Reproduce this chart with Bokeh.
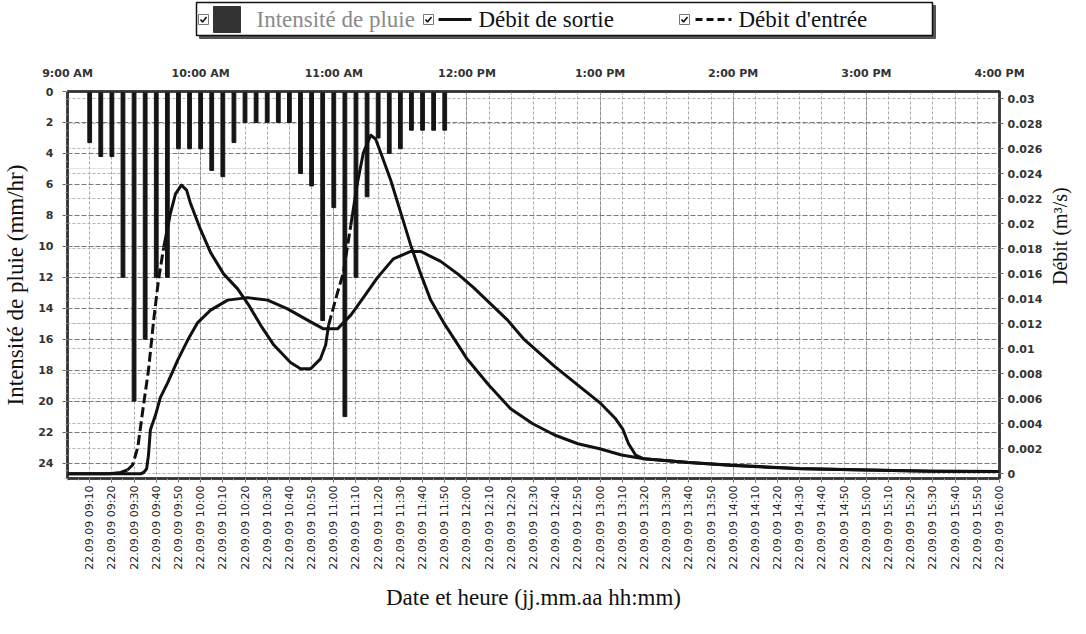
import math
from bokeh.plotting import figure
from bokeh.layouts import column
from bokeh.models import (Range1d, LinearAxis, FixedTicker, Grid,
                          CustomJSTickFormatter)
from bokeh.core.properties import value
from bokeh.embed import file_html
from bokeh.resources import INLINE

# ---------------------------------------------------------------- data
# Rainfall intensity (mm/hr), one reading every 5 minutes
rain_time = ["09:10", "09:15", "09:20", "09:25", "09:30", "09:35", "09:40",
             "09:45", "09:50", "09:55", "10:00", "10:05", "10:10", "10:15",
             "10:20", "10:25", "10:30", "10:35", "10:40", "10:45", "10:50",
             "10:55", "11:00", "11:05", "11:10", "11:15", "11:20", "11:25",
             "11:30", "11:35", "11:40", "11:45", "11:50"]
rain_mm = [3.3, 4.2, 4.2, 12.0, 20.0, 16.0, 12.0, 12.0, 3.7, 3.7, 3.7,
           5.1, 5.5, 3.3, 2.0, 2.0, 2.0, 2.0, 2.0, 5.3, 6.1, 14.8, 7.5,
           21.0, 12.0, 6.8, 3.0, 4.0, 3.7, 2.5, 2.5, 2.5, 2.5]

# Inflow (m3/s)
inflow_time = ["09:00:00", "09:19:00", "09:24:00", "09:27:00", "09:29:20",
               "09:31:40", "09:34:20", "09:36:30", "09:38:50", "09:41:00",
               "09:43:20", "09:46:20", "09:48:40", "09:51:20", "09:53:40",
               "09:55:20", "09:59:50", "10:04:30", "10:10:20", "10:16:40",
               "10:21:40", "10:27:00", "10:33:00", "10:40:30", "10:45:00",
               "10:49:30", "10:54:00", "10:56:20", "10:57:40", "11:01:40",
               "11:04:20", "11:07:40", "11:10:40", "11:13:20", "11:16:40",
               "11:18:50", "11:21:10", "11:25:40", "11:30:10", "11:34:40",
               "11:39:10", "11:43:40", "11:49:30", "11:57:10", "12:00:00",
               "12:09:50", "12:19:40", "12:29:40", "12:39:30", "12:50:00",
               "12:59:50", "13:09:40", "13:19:40", "13:40:00", "13:59:40",
               "14:30:00", "15:00:00", "15:30:00", "16:00:00"]
inflow = [0.0, 0.0, 0.0001, 0.0003, 0.0007,
          0.0021, 0.0056, 0.0083, 0.0123, 0.0155,
          0.0181, 0.0208, 0.0224, 0.0231, 0.0227,
          0.0217, 0.0196, 0.0177, 0.0160, 0.0148,
          0.0135, 0.0119, 0.0103, 0.0089, 0.0084,
          0.0084, 0.0092, 0.0103, 0.0119, 0.0145,
          0.0161, 0.0199, 0.0233, 0.0257, 0.0271,
          0.0268, 0.0257, 0.0235, 0.0209, 0.0183,
          0.0160, 0.0139, 0.0121, 0.0100, 0.0092,
          0.0071, 0.0052, 0.0040, 0.0031, 0.0024,
          0.0020, 0.0015, 0.0012, 0.0009, 0.00066,
          0.0004, 0.0003, 0.0002, 0.00018]
# rising limbs of the inflow are drawn dashed
inflow_dashed = [("09:27:00", "09:43:20"), ("10:57:40", "11:07:40")]

# Outflow (m3/s)
outflow_time = ["09:00:00", "09:33:00", "09:34:20", "09:35:40", "09:36:30",
                "09:37:20", "09:39:40", "09:41:50", "09:45:10", "09:49:40",
                "09:54:10", "09:58:40", "10:04:30", "10:12:10", "10:21:10",
                "10:30:10", "10:39:10", "10:48:10", "10:55:20", "11:01:40",
                "11:07:40", "11:13:20", "11:19:40", "11:26:50", "11:34:40",
                "11:39:10", "11:48:10", "11:55:50", "12:03:00", "12:10:40",
                "12:18:20", "12:25:30", "12:39:30", "12:50:00", "12:59:50",
                "13:07:00", "13:10:10", "13:12:50", "13:16:00", "13:19:40",
                "13:40:00", "14:00:00", "14:30:00", "15:00:00", "15:30:00",
                "16:00:00"]
outflow = [0.0, 0.0, 0.0001, 0.0004, 0.0015,
           0.0035, 0.0047, 0.0061, 0.0073, 0.0091,
           0.0107, 0.0121, 0.0131, 0.0139, 0.0141,
           0.0139, 0.0132, 0.0123, 0.0116, 0.0116,
           0.0127, 0.0141, 0.0157, 0.0172, 0.0178,
           0.0178, 0.0170, 0.0160, 0.0149, 0.0136,
           0.0123, 0.0108, 0.0086, 0.0071, 0.0057,
           0.0044, 0.0036, 0.0024, 0.0015, 0.0012,
           0.0009, 0.00068, 0.00042, 0.0003, 0.0002,
           0.00018]

hour_labels = ["9:00 AM", "10:00 AM", "11:00 AM", "12:00 PM", "1:00 PM",
               "2:00 PM", "3:00 PM", "4:00 PM"]
date_prefix = "22.09.09"

legend_rain = "Intensité de pluie"
legend_out = "Débit de sortie"
legend_in = "Débit d'entrée"


def minutes(hms):
    """Minutes elapsed since 09:00."""
    parts = [int(v) for v in hms.split(":")]
    sec = parts[2] if len(parts) > 2 else 0
    return (parts[0] - 9) * 60 + parts[1] + sec / 60.0


rain_x = [minutes(t) for t in rain_time]
in_x = [minutes(t) for t in inflow_time]
out_x = [minutes(t) for t in outflow_time]

# ---------------------------------------------------------------- styles
INK = "#111111"
TICK_FONT = "DejaVu Sans"
SERIF = "Liberation Serif"
BORDER_L, BORDER_R = 67, 87

# ---------------------------------------------------------------- main plot
p = figure(width=1086, height=594, output_backend="svg", toolbar_location=None,
           x_range=Range1d(0, 420), y_range=Range1d(25, 0),
           x_axis_location=None, y_axis_location=None,
           min_border_left=BORDER_L, min_border_right=BORDER_R,
           min_border_top=51, min_border_bottom=156)
p.extra_y_ranges = {"flow": Range1d(-0.00038, 0.0306)}
p.outline_line_color = "#222222"
p.outline_line_width = 2.5
p.background_fill_color = "white"

ten_min = list(range(10, 421, 10))
hours = list(range(0, 421, 60))
rain_ticks = list(range(0, 25, 2))
flow_ticks = [round(i * 0.002, 3) for i in range(16)]

grid_specs = [
    dict(dimension=0, ticker=FixedTicker(ticks=ten_min),
         grid_line_color="#a8a8a8", grid_line_dash="3 2"),
    dict(dimension=0, ticker=FixedTicker(ticks=hours),
         grid_line_color="#8c8c8c", grid_line_dash="4 1"),
    dict(dimension=1, ticker=FixedTicker(ticks=flow_ticks), y_range_name="flow",
         grid_line_color="#b4b4b4", grid_line_dash="3 2"),
    dict(dimension=1, ticker=FixedTicker(ticks=rain_ticks),
         grid_line_color="#7a7a7a", grid_line_dash="5 2"),
]
for spec in grid_specs:
    p.add_layout(Grid(grid_line_width=1, **spec))

# rainfall bars hang from the top edge
p.vbar(x=rain_x, width=1.7, top=0, bottom=rain_mm, color="#151515")

# outflow
p.line(out_x, outflow, y_range_name="flow", line_color=INK, line_width=3,
       line_join="round")

# inflow: solid pieces and dashed rising limbs
bounds = [(inflow_time.index(a), inflow_time.index(b)) for a, b in inflow_dashed]
solid_xs, solid_ys, dash_xs, dash_ys = [], [], [], []
start = 0
for i0, i1 in bounds:
    solid_xs.append(in_x[start:i0 + 1])
    solid_ys.append(inflow[start:i0 + 1])
    dash_xs.append(in_x[i0:i1 + 1])
    dash_ys.append(inflow[i0:i1 + 1])
    start = i1
solid_xs.append(in_x[start:])
solid_ys.append(inflow[start:])
p.multi_line(solid_xs, solid_ys, y_range_name="flow", line_color=INK,
             line_width=3, line_join="round")
p.multi_line(dash_xs, dash_ys, y_range_name="flow", line_color=INK,
             line_width=3, line_dash="10 4")


# ---------------------------------------------------------------- axes
def style_axis(ax, size="11px", bold=True):
    ax.major_label_text_font = TICK_FONT
    ax.major_label_text_font_size = size
    ax.major_label_text_font_style = "bold" if bold else "normal"
    ax.major_label_text_color = "#333333"
    ax.axis_line_color = "#333333"
    ax.axis_line_width = 2
    ax.major_tick_line_color = "#666666"
    ax.minor_tick_line_color = "#999999"
    ax.axis_label_text_font = SERIF
    ax.axis_label_text_font_style = "normal"
    ax.axis_label_text_font_size = "23px"
    ax.axis_label_text_color = "#111111"


left = LinearAxis(ticker=FixedTicker(ticks=rain_ticks,
                                     minor_ticks=[i * 0.5 for i in range(51)]),
                  axis_label="Intensité de pluie (mm/hr)")
style_axis(left)
left.major_tick_in = 0
left.major_tick_out = 5
left.minor_tick_in = 0
left.minor_tick_out = 2
left.major_label_standoff = 9
left.axis_label_standoff = 7
p.add_layout(left, "left")

right = LinearAxis(y_range_name="flow", ticker=FixedTicker(ticks=flow_ticks),
                   formatter=CustomJSTickFormatter(code="""
                       if (tick === 0) { return '0'; }
                       return tick.toFixed(3).replace(/0+$/, '').replace(/\\.$/, '');
                   """),
                   axis_label="Débit (m³/s)")
style_axis(right)
right.axis_label_text_font_size = "20px"
right.major_tick_in = 0
right.major_tick_out = 4
right.minor_tick_out = 0
right.major_label_standoff = 4
right.axis_label_standoff = 15
right.axis_label_orientation = math.pi / 2
p.add_layout(right, "right")

top = LinearAxis(ticker=FixedTicker(ticks=hours),
                 major_label_overrides={h: lab for h, lab in zip(hours, hour_labels)})
style_axis(top)
top.major_tick_in = 0
top.major_tick_out = 0
top.minor_tick_out = 0
top.major_label_standoff = 12
p.add_layout(top, "above")

bottom_labels = {m: f"{date_prefix} {9 + m // 60:02d}:{m % 60:02d}" for m in ten_min}
bottom = LinearAxis(ticker=FixedTicker(ticks=ten_min,
                                       minor_ticks=list(range(0, 421, 5))),
                    major_label_overrides=bottom_labels,
                    major_label_orientation=math.pi / 2,
                    axis_label="Date et heure (jj.mm.aa hh:mm)")
style_axis(bottom, size="11px", bold=False)
bottom.major_label_text_color = "#222222"
bottom.major_tick_in = 0
bottom.major_tick_out = 4
bottom.minor_tick_in = 0
bottom.minor_tick_out = 2
bottom.major_label_standoff = 3
bottom.axis_label_standoff = 12
p.add_layout(bottom, "below")

# ---------------------------------------------------------------- legend strip
# data units equal page pixels: the frame spans x = 67..999
lg = figure(width=1086, height=40, output_backend="svg", toolbar_location=None,
            x_range=Range1d(BORDER_L, 1086 - BORDER_R), y_range=Range1d(40, 0),
            x_axis_location=None, y_axis_location=None,
            min_border_left=BORDER_L, min_border_right=BORDER_R,
            min_border_top=0, min_border_bottom=0)
lg.outline_line_color = None
lg.grid.visible = False

lg.quad(left=[199], right=[935], top=[5], bottom=[38], color="#555555")
lg.quad(left=[196], right=[932], top=[2], bottom=[35], fill_color="white",
        line_color="#111111", line_width=1.5)

# check boxes
check_x = [203, 428, 684]
lg.quad(left=[c - 5 for c in check_x], right=[c + 5 for c in check_x],
        top=[14] * 3, bottom=[24] * 3, fill_color="white",
        line_color="#777777", line_width=1)
lg.multi_line(xs=[[c - 3, c - 1, c + 3] for c in check_x],
              ys=[[19, 21.5, 16.5]] * 3, line_color="#111111", line_width=1.6)

lg.quad(left=[213], right=[240], top=[6], bottom=[32], color="#333333")
lg.text(x=[256], y=[19], text=[legend_rain], text_font=value(SERIF),
        text_font_size="23px", text_color="#8a8a8a", text_baseline="middle")
lg.line(x=[438, 471], y=[19, 19], line_color=INK, line_width=3)
lg.text(x=[478], y=[19], text=[legend_out], text_font=value(SERIF),
        text_font_size="23px", text_color="#111111", text_baseline="middle")
lg.line(x=[695, 731], y=[19, 19], line_color=INK, line_width=3, line_dash="7 4")
lg.text(x=[738], y=[19], text=[legend_in], text_font=value(SERIF),
        text_font_size="23px", text_color="#111111", text_baseline="middle")

layout = column(lg, p)
open("out.html", "w").write(file_html(layout, INLINE))
